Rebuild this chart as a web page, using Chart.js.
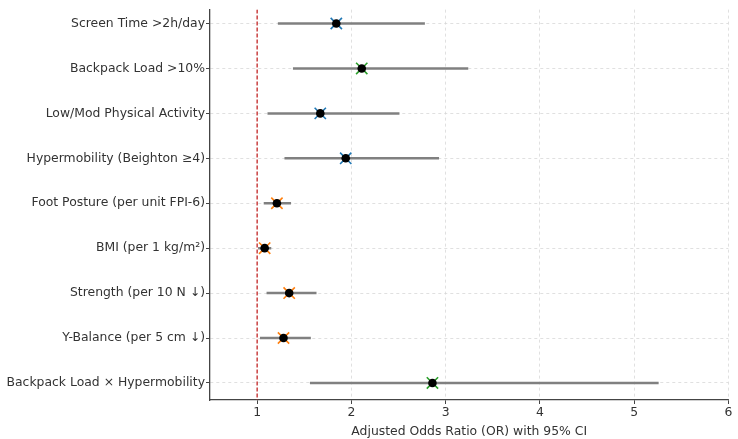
<!DOCTYPE html>
<html>
<head>
<meta charset="utf-8">
<script src="https://cdn.jsdelivr.net/npm/chart.js@4.4.1/dist/chart.umd.min.js"></script>
<style>
  html, body { margin: 0; padding: 0; background: #fff; }
  #wrap { width: 738px; height: 439px; }
</style>
</head>
<body>
<div id="wrap"><canvas id="forest"></canvas></div>
<script>
const factors = [
  'Screen Time >2h/day',
  'Backpack Load >10%',
  'Low/Mod Physical Activity',
  'Hypermobility (Beighton \u22654)',
  'Foot Posture (per unit FPI-6)',
  'BMI (per 1 kg/m\u00b2)',
  'Strength (per 10 N \u2193)',
  'Y-Balance (per 5 cm \u2193)',
  'Backpack Load \u00d7 Hypermobility'
];
const oddsRatio = [1.84, 2.11, 1.67, 1.94, 1.21, 1.08, 1.34, 1.28, 2.86];
const ciLow     = [1.22, 1.38, 1.11, 1.29, 1.07, 1.01, 1.10, 1.03, 1.56];
const ciHigh    = [2.78, 3.24, 2.51, 2.93, 1.36, 1.15, 1.63, 1.57, 5.26];
const xTicks = [1, 2, 3, 4, 5, 6];

// marker colour groups (blue / green / orange like the original)
const markColors = ['#1f77b4', '#2ca02c', '#1f77b4', '#1f77b4', '#ff7f0e', '#ff7f0e', '#ff7f0e', '#ff7f0e', '#2ca02c'];

const yMin = -0.31, yMax = 8.38;

const datasets = [];

// reference line at OR = 1
datasets.push({
  type: 'line',
  data: [{x: 1, y: yMin}, {x: 1, y: yMax}],
  borderColor: '#c62828',
  borderWidth: 1.3,
  borderDash: [4, 2],
  pointRadius: 0,
  order: 5
});

// CI whiskers
factors.forEach((f, i) => {
  datasets.push({
    type: 'line',
    data: [{x: ciLow[i], y: i}, {x: ciHigh[i], y: i}],
    borderColor: '#808080',
    borderWidth: 2.5,
    pointRadius: 0,
    order: 4
  });
});

// coloured x markers
datasets.push({
  type: 'scatter',
  data: oddsRatio.map((v, i) => ({x: v, y: i})),
  pointStyle: 'crossRot',
  pointRadius: 8,
  borderWidth: 1.6,
  borderColor: markColors,
  backgroundColor: markColors,
  order: 2
});

// black point estimate
datasets.push({
  type: 'scatter',
  data: oddsRatio.map((v, i) => ({x: v, y: i})),
  pointStyle: 'circle',
  pointRadius: 4.3,
  borderWidth: 0,
  backgroundColor: '#000',
  order: 1
});

const font = {family: 'DejaVu Sans', size: 12.4};

new Chart(document.getElementById('forest'), {
  type: 'scatter',
  data: {datasets},
  options: {
    responsive: true,
    maintainAspectRatio: false,
    animation: false,
    layout: {padding: {top: 5, right: 8, left: 0, bottom: 0}},
    plugins: {legend: {display: false}, tooltip: {enabled: false}},
    scales: {
      x: {
        type: 'linear',
        min: 0.5,
        max: 6,
        afterBuildTicks: s => { s.ticks = xTicks.map(v => ({value: v})); },
        afterFit: s => { s.height = 39; },
        ticks: {color: '#333', font, padding: 1, maxRotation: 0},
        grid: {color: '#d8d8d8', lineWidth: 0.8, tickLength: 4, tickColor: '#444', tickWidth: 1},
        border: {color: '#444', width: 1.3, dash: [3, 3]},
        title: {display: true, text: 'Adjusted Odds Ratio (OR) with 95% CI', color: '#333', font, padding: {top: 1, bottom: 0}}
      },
      y: {
        type: 'linear',
        min: yMin,
        max: yMax,
        reverse: true,
        afterBuildTicks: s => { s.ticks = factors.map((f, i) => ({value: i})); },
        afterFit: s => { s.width = 210; },
        ticks: {color: '#333', font, padding: 1, callback: v => factors[v]},
        grid: {color: '#d8d8d8', lineWidth: 0.8, tickLength: 4, tickColor: '#444', tickWidth: 1},
        border: {color: '#444', width: 1.3, dash: [3, 3]}
      }
    }
  }
});
</script>
</body>
</html>
